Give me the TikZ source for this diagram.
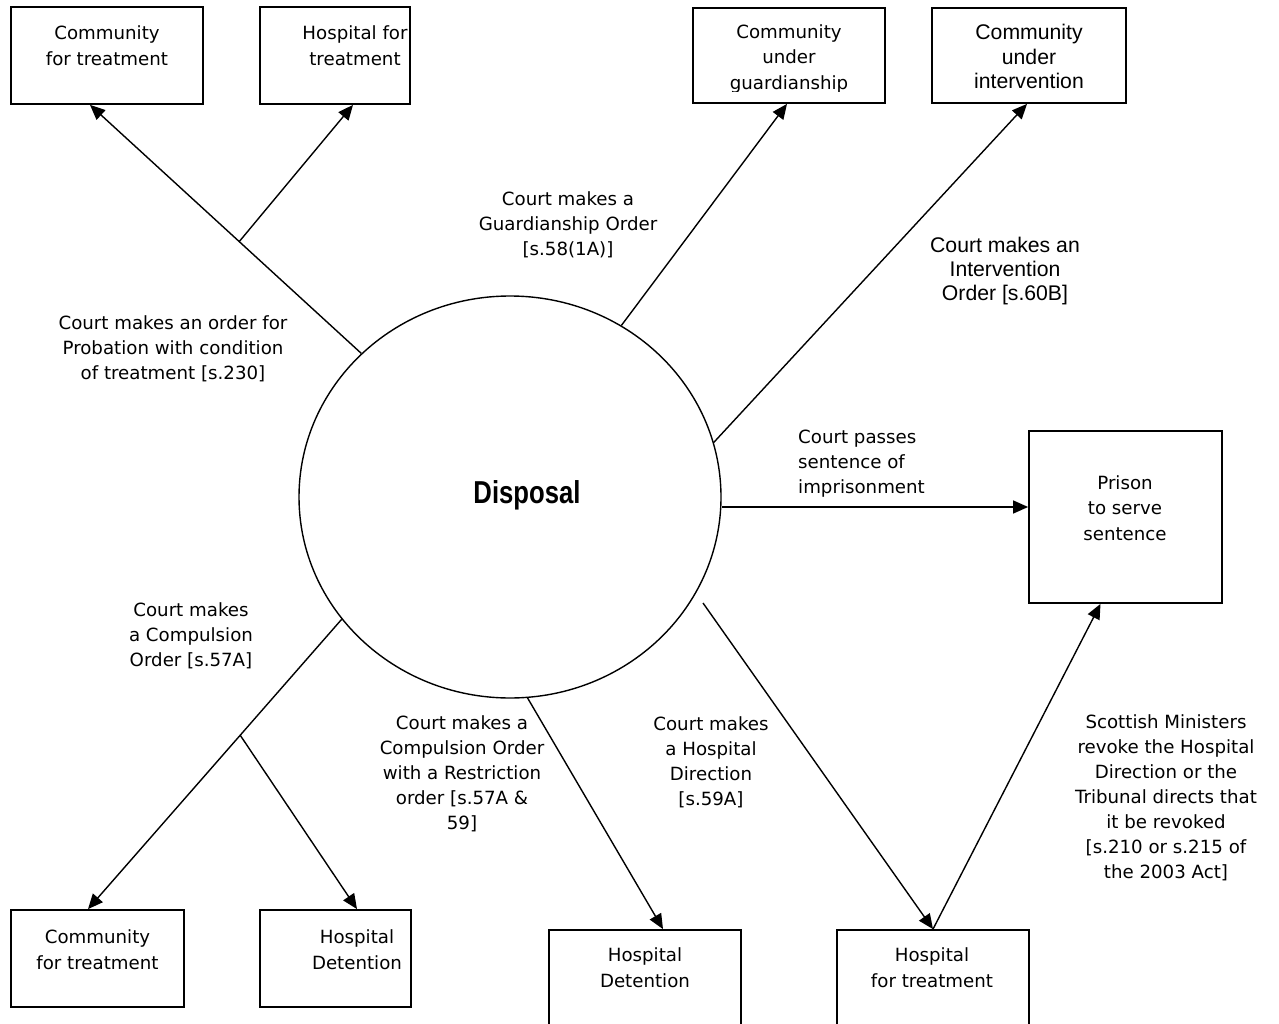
\documentclass[tikz,border=0pt]{standalone}
\usepackage{fontspec}
\usepackage{graphicx}
\setmainfont{DejaVu Sans}
\newfontfamily\arialf{Liberation Sans}
\usetikzlibrary{shapes.geometric,arrows.meta,calc}

\tikzset{
  frame/.style={draw, line width=1.8pt, inner sep=0pt},
  txt/.style={align=center, inner sep=0pt, font=\fontsize{18.2}{25}\selectfont},
  btxt/.style={align=center, inner sep=0pt, font=\fontsize{18.2}{25.5}\selectfont},
  txtl/.style={align=left, inner sep=0pt, font=\fontsize{18.2}{25}\selectfont},
  atxt/.style={align=center, inner sep=0pt, font=\arialf\fontsize{21.2}{24.4}\selectfont},
  conn/.style={line width=1.4pt},
  arr/.style={line width=1.4pt, -{Triangle[length=15pt,width=13pt]}}
}

\begin{document}
\begin{tikzpicture}[x=1pt,y=-1pt]
\useasboundingbox (0,0) rectangle (1279,1024);

% central disposal ellipse
\node[draw, ellipse, line width=1.4pt, minimum width=422pt, minimum height=402pt, inner sep=0pt] (disp) at (510,497) {};
\node[inner sep=0pt] (dlab) at (527,495)
  {\scalebox{0.81}[1]{\arialf\bfseries\fontsize{31.7}{36}\selectfont Disposal}};

% outcome boxes
\node[frame, minimum width=192pt, minimum height=97pt] (b1) at (107,55.5) {};
\node[frame, minimum width=150pt, minimum height=97pt] (b2) at (335,55.5) {};
\node[frame, minimum width=192pt, minimum height=95pt] (b3) at (789,55.5) {};
\node[frame, minimum width=194pt, minimum height=95pt] (b4) at (1029,55.5) {};
\node[frame, minimum width=193pt, minimum height=172pt] (b5) at (1125.5,517) {};
\node[frame, minimum width=173pt, minimum height=97pt] (b6) at (97.5,958.5) {};
\node[frame, minimum width=151pt, minimum height=97pt] (b7) at (335.5,958.5) {};
\node[frame, minimum width=192pt, minimum height=110pt] (b8) at (645,985) {};
\node[frame, minimum width=192pt, minimum height=110pt] (b9) at (933,985) {};

% box texts
\node[btxt] (t1) at (107,45.5) {Community\\for treatment};
\node[btxt] (t2) at (355,45.5) {Hospital for\\treatment};
\begin{scope}
  % the last line of this box runs past its frame and is cut off
  \clip (b3.north west) rectangle ($(b3.south east)+(0,-12)$);
  \node[btxt] (t3) at (789,58.5) {Community\\under\\guardianship};
\end{scope}
\node[atxt] (t4) at (1029,56.5) {Community\\under\\intervention};
\node[btxt] (t5) at (1125,508) {Prison\\to serve\\sentence};
\node[btxt] (t6) at (97.5,949.5) {Community\\for treatment};
\node[btxt] (t7) at (357,949.5) {Hospital\\Detention};
\node[btxt] (t8) at (645,967.5) {Hospital\\Detention};
\node[btxt] (t9) at (932,967.5) {Hospital\\for treatment};

% connector end points
\coordinate (e1) at ($(b1.south)+(-17,0)$);
\coordinate (e2) at ($(b2.south)+(18,0)$);
\coordinate (e3) at ($(b3.south)+(-2,0)$);
\coordinate (e4) at ($(b4.south)+(-2,0)$);
\coordinate (e5) at ($(b5.west)+(0,-10)$);
\coordinate (e6) at ($(b6.north)+(-9.5,0)$);
\coordinate (e7) at ($(b7.north)+(21.5,0)$);
\coordinate (e8) at ($(b8.north)+(18,0)$);
\coordinate (e9) at (b9.north);
\coordinate (e10) at ($(b5.south)+(-25,0)$);
\coordinate (s7) at ($(disp.center)+(193,106)$);

% connectors
\draw[arr] (disp.136.5) -- (e1);
\coordinate (f1) at ($(disp.136.5)!0.45!(e1)$);
\draw[arr] (f1) -- (e2);
\draw[arr] (disp.57.9) -- (e3);
\draw[arr] (disp.15.9) -- (e4);
\draw[arr] (e5 -| disp.east) -- (e5);
\draw[arr] (disp.216.2) -- (e6);
\coordinate (f2) at ($(disp.216.2)!0.4!(e6)$);
\draw[arr] (f2) -- (e7);
\draw[arr] (disp.275.7) -- (e8);
\draw[arr] (s7) -- (e9);
\draw[arr] (e9) -- (e10);

% connector labels
\node[txt] (l1) at (173,349) {Court makes an order for\\Probation with condition\\of treatment [s.230]};
\node[txt] (l2) at (568,225) {Court makes a\\Guardianship Order\\{[s.58(1A)]}};
\node[atxt] (l3) at (1005,271) {Court makes an\\Intervention\\Order [s.60B]};
\node[txtl, anchor=west] (l4) at (798,464) {Court passes\\sentence of\\imprisonment};
\node[txt] (l5) at (191,636) {Court makes\\a Compulsion\\Order [s.57A]};
\node[txt] (l6) at (462,774) {Court makes a\\Compulsion Order\\with a Restriction\\order [s.57A \&\\59]};
\node[txt] (l7) at (711,762) {Court makes\\a Hospital\\Direction\\{[s.59A]}};
\node[txt] (l8) at (1166,798) {Scottish Ministers\\revoke the Hospital\\Direction or the\\Tribunal directs that\\it be revoked\\{[s.210 or s.215 of}\\the 2003 Act]};
\end{tikzpicture}
\end{document}
